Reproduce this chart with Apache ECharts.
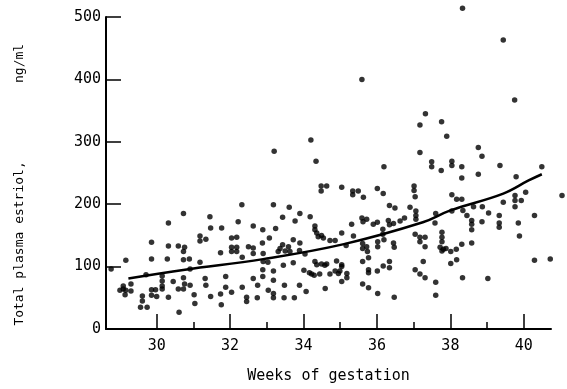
<!DOCTYPE html>
<html>
<head>
<meta charset="utf-8">
<script src="https://cdn.jsdelivr.net/npm/echarts@6/dist/echarts.min.js"></script>
<style>
  html, body { margin: 0; padding: 0; background: #fff; }
  #chart { width: 567px; height: 389px; }
</style>
</head>
<body>
<div id="chart"></div>
<script>
// [week, ng/ml]
const estriolPoints = [
  [28.76, 96], [29.16, 110], [29.09, 69], [29.09, 64], [29.0, 62], [29.16, 62], [29.14, 55], [29.3, 72],
  [29.3, 61], [29.61, 53], [29.61, 45], [29.56, 35], [29.74, 35], [29.86, 139], [29.86, 112], [29.86, 63],
  [29.97, 63], [29.86, 54], [30.0, 52], [30.32, 170], [30.32, 133], [30.29, 112], [30.59, 133], [29.71, 87],
  [30.15, 85], [30.15, 77], [30.15, 69], [30.15, 64], [30.32, 51], [30.61, 27], [30.45, 76], [30.59, 64],
  [30.73, 185], [30.73, 124], [30.73, 111], [30.73, 82], [30.73, 64],
  [30.76, 131], [30.89, 112], [30.91, 96], [30.76, 72], [30.91, 70], [31.02, 55], [31.04, 41], [31.18, 149],
  [31.18, 141], [31.34, 144], [31.18, 107], [31.32, 81], [31.34, 70], [31.45, 180], [31.47, 162], [31.47, 52],
  [31.77, 162], [31.74, 122], [31.88, 84], [31.88, 67], [31.74, 56], [31.76, 39], [32.04, 59], [32.04, 146],
  [32.18, 147], [32.04, 131], [32.04, 124], [32.18, 131], [32.18, 124], [32.22, 172], [32.32, 199], [32.33, 115],
  [32.33, 67], [32.45, 51], [32.45, 44], [32.5, 132], [32.63, 165], [32.63, 130], [32.63, 121], [32.63, 81],
  [32.75, 70], [32.74, 50], [32.89, 159], [32.9, 121], [32.9, 108], [32.89, 95], [32.89, 84],
  [33.2, 285], [34.34, 269], [34.48, 229], [34.48, 221], [34.63, 229], [35.04, 227], [33.18, 199], [33.61, 195],
  [33.9, 185], [33.43, 179], [34.18, 180], [33.77, 173], [33.24, 161], [34.31, 165], [34.31, 159], [34.36, 154],
  [34.4, 148], [34.49, 150], [34.54, 146], [34.72, 142], [34.86, 142], [35.04, 154], [33.07, 146], [32.88, 138],
  [33.72, 143], [33.9, 138], [33.43, 135], [33.59, 132], [33.36, 129], [33.31, 124], [33.5, 125], [33.63, 124],
  [33.89, 126], [34.04, 120], [33.03, 107], [33.72, 106], [33.45, 102], [34.31, 108], [34.36, 103], [34.49, 104],
  [34.58, 102], [34.63, 104], [34.9, 109], [35.04, 103], [35.04, 100], [33.18, 93], [34.01, 94], [34.16, 90],
  [34.22, 88], [34.29, 86], [34.44, 88], [34.72, 88], [34.86, 93], [34.99, 93], [34.95, 89], [33.18, 78],
  [35.04, 76], [33.48, 70], [33.89, 70], [33.04, 62], [33.18, 57], [33.18, 50], [33.47, 50], [33.75, 50],
  [34.07, 60], [34.59, 65],
  [37.17, 283], [36.19, 260], [35.34, 221], [35.34, 215], [35.49, 221], [35.63, 211], [36.01, 225], [36.17, 217],
  [37.01, 229], [37.01, 222], [37.04, 212], [36.34, 198], [36.49, 194], [36.9, 195], [37.06, 189], [37.06, 182],
  [37.06, 176], [35.59, 178], [35.72, 176], [35.62, 172], [35.9, 168], [36.01, 171], [36.31, 174], [36.34, 167],
  [36.45, 169], [36.63, 173], [36.75, 178], [35.31, 168], [35.36, 149], [36.16, 160], [36.16, 152], [37.04, 152],
  [37.17, 147], [37.17, 140], [35.16, 134], [35.61, 137], [35.61, 129], [35.72, 132], [35.74, 124], [35.77, 114],
  [36.02, 140], [36.02, 132], [36.19, 143], [36.45, 138], [36.47, 131], [35.18, 89], [35.18, 82], [35.61, 108],
  [35.77, 95], [35.77, 90], [36.01, 93], [36.17, 101], [36.34, 108], [36.34, 98], [35.61, 72], [35.77, 66],
  [36.02, 57], [36.47, 51], [37.04, 95], [37.17, 88], [37.26, 108], [37.31, 82],
  [38.76, 291], [38.86, 277], [39.35, 262], [37.49, 268], [37.49, 260], [37.75, 254], [38.04, 269], [38.04, 262],
  [38.31, 260], [38.31, 242], [38.76, 248], [38.04, 215], [38.17, 208], [38.31, 208], [37.6, 185], [37.58, 170],
  [38.04, 189], [38.34, 190], [38.63, 196], [38.87, 196], [39.04, 186], [39.33, 182], [39.33, 170], [39.33, 163],
  [39.44, 203], [38.45, 182], [38.58, 174], [38.58, 168], [38.58, 159], [38.86, 172], [37.31, 147], [37.31, 132],
  [37.77, 155], [37.77, 147], [37.77, 140], [37.72, 131], [37.81, 128], [37.88, 129], [37.77, 125], [38.01, 124],
  [38.16, 128], [38.31, 136], [38.58, 138], [38.01, 105], [38.17, 111], [37.6, 75], [37.6, 54], [38.33, 82],
  [39.02, 81],
  [40.49, 260], [39.79, 244], [41.04, 214], [40.05, 219], [39.76, 214], [39.76, 206], [39.93, 206], [39.76, 196],
  [39.85, 170], [40.29, 182], [39.88, 149], [40.29, 110], [40.72, 112],
  [38.33, 514], [39.44, 463], [35.59, 400], [39.75, 367], [37.32, 345], [37.17, 327], [37.76, 332], [37.9, 309],
  [34.2, 303]
];

// fitted curve
const curveWeeks = [29.23, 30.77, 32.9, 35.1, 37.25, 38.0, 39.44, 40.13, 40.49];
const curveValues = [81, 95, 112, 136, 171, 190, 217, 238, 248];

const majorWeekTicks = [30, 32, 34, 36, 38, 40];
const minorWeekTicks = [31, 33, 35, 37, 39];
const yTicks = [0, 100, 200, 300, 400, 500];

const FONT = "DejaVu Sans Mono";
const X_MIN = 28.62;
const X_MAX = 40.74;

const chart = echarts.init(document.getElementById("chart"), null, { renderer: "canvas" });

chart.setOption({
  backgroundColor: "#fff",
  animation: false,
  grid: {
    left: 106,
    right: 16,
    top: 17,
    bottom: 51,
  },
  xAxis: [
    {
      type: "value",
      min: X_MIN,
      max: X_MAX,
      position: "bottom",
      name: "Weeks of gestation",
      nameLocation: "middle",
      nameGap: 40,
      nameTextStyle: { color: "#000", fontFamily: FONT, fontSize: 15 },
      axisLine: { show: true, lineStyle: { color: "#000", width: 2 } },
      axisTick: {
        show: true,
        inside: true,
        length: 15,
        customValues: majorWeekTicks,
        lineStyle: { color: "#000", width: 1.5 },
      },
      axisLabel: {
        customValues: majorWeekTicks,
        color: "#000",
        fontFamily: FONT,
        fontSize: 15,
        margin: 10,
      },
      splitLine: { show: false },
    },
    {
      type: "value",
      min: X_MIN,
      max: X_MAX,
      position: "bottom",
      axisLine: { show: false },
      axisTick: {
        show: true,
        inside: true,
        length: 7,
        customValues: minorWeekTicks,
        lineStyle: { color: "#000", width: 1.5 },
      },
      axisLabel: { show: false },
      splitLine: { show: false },
    },
  ],
  yAxis: {
    type: "value",
    min: 0,
    max: 500,
    name: "Total plasma estriol,          ng/ml   ",
    nameLocation: "middle",
    nameGap: 80,
    nameTextStyle: { color: "#000", fontFamily: FONT, fontSize: 13 },
    axisLine: { show: true, lineStyle: { color: "#000", width: 2 } },
    axisTick: {
      show: true,
      inside: true,
      length: 15,
      customValues: yTicks,
      lineStyle: { color: "#000", width: 1.5 },
    },
    axisLabel: {
      customValues: yTicks,
      color: "#000",
      fontFamily: FONT,
      fontSize: 15,
      margin: 5,
    },
    splitLine: { show: false },
  },
  series: [
    {
      name: "estriol",
      type: "scatter",
      xAxisIndex: 0,
      yAxisIndex: 0,
      clip: false,
      symbol: "circle",
      symbolSize: 5.5,
      itemStyle: { color: "#000" },
      data: estriolPoints,
    },
    {
      name: "curve",
      type: "line",
      xAxisIndex: 0,
      yAxisIndex: 0,
      smooth: 0.4,
      showSymbol: false,
      clip: false,
      lineStyle: { color: "#000", width: 2.5 },
      data: curveWeeks.map((w, i) => [w, curveValues[i]]),
    },
  ],
});
</script>
</body>
</html>
